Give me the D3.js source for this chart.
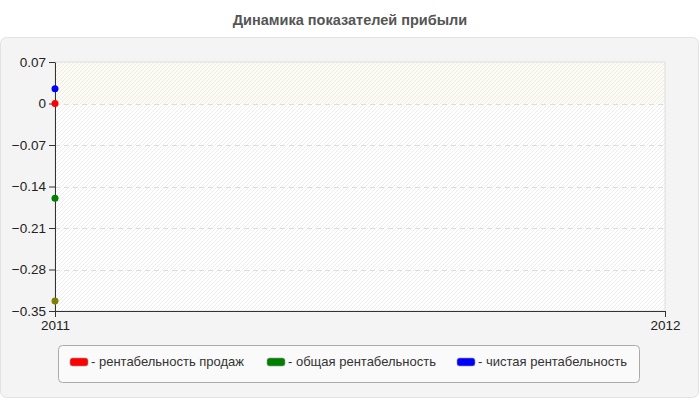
<!DOCTYPE html>
<html>
<head>
<meta charset="utf-8">
<script src="https://cdn.jsdelivr.net/npm/d3@7"></script>
<style>
  body { margin: 0; background: #fff; }
  svg { display: block; font-family: "Liberation Sans", Arial, sans-serif; }
</style>
</head>
<body>
<script>
// data
const years = [2011, 2012];
const yTicks = [0.07, 0, -0.07, -0.14, -0.21, -0.28, -0.35];
const seriesNames = ["рентабельность продаж", "общая рентабельность", "чистая рентабельность", ""];
const seriesColors = ["#ff0000", "#008000", "#0000ff", "#808000"];
const salesMargin = [0];
const totalMargin = [-0.16];
const netMargin = [0.025];
const extraSeries = [-0.333];

const w = 700, h = 400;
const padL = 55, padR = 665, padT = 62, padB = 311;

const svg = d3.select('body').append('svg').attr('width', w).attr('height', h);

// hatch pattern
const defs = svg.append('defs');
const pat = defs.append('pattern').attr('id', 'hatch').attr('patternUnits', 'userSpaceOnUse')
  .attr('width', 4).attr('height', 4);
pat.append('path').attr('d', 'M-1,1 l2,-2 M0,4 l4,-4 M3,5 l2,-2')
  .attr('stroke', '#e8e8e8').attr('stroke-width', 0.8);

svg.append('text').text('Динамика показателей прибыли')
  .attr('x', w / 2).attr('y', 25).attr('text-anchor', 'middle')
  .attr('font-weight', 'bold').attr('font-size', 14.5).attr('fill', '#555');

// panel
svg.append('rect').attr('x', 0.5).attr('y', 37.5).attr('width', 698).attr('height', 360)
  .attr('rx', 6).attr('fill', '#f4f4f4').attr('stroke', '#e2e2e2');

const x = d3.scaleLinear().domain([2011, 2012]).range([padL, padR]);
const y = d3.scaleLinear().domain([-0.35, 0.07]).range([padB, padT]);

// plot background
svg.append('rect').attr('x', padL).attr('y', padT).attr('width', padR - padL).attr('height', padB - padT)
  .attr('fill', '#ffffff');
svg.append('rect').attr('x', padL).attr('y', y(0.07)).attr('width', padR - padL).attr('height', y(0) - y(0.07))
  .attr('fill', '#fbfbf2');
svg.append('rect').attr('x', padL).attr('y', padT).attr('width', padR - padL).attr('height', padB - padT)
  .attr('fill', 'url(#hatch)').attr('stroke', '#dedede');

// grid
svg.append('g').selectAll('line').data(yTicks.filter(d => d !== 0.07 && d !== -0.35)).enter().append('line')
  .attr('x1', padL).attr('x2', padR)
  .attr('y1', d => Math.round(y(d)) + 0.5).attr('y2', d => Math.round(y(d)) + 0.5)
  .attr('stroke', '#dddddd').attr('stroke-dasharray', '5,4');

// axes
const yAxis = d3.axisLeft(y).tickValues(yTicks).tickFormat(d => d === 0 ? '0' : d3.format('.2f')(d)).tickSizeOuter(0).tickPadding(3);
const gy = svg.append('g').attr('transform', `translate(${padL},0)`).call(yAxis);
const xAxis = d3.axisBottom(x).tickValues(years).tickFormat(d3.format('d')).tickSizeOuter(0).tickPadding(3);
const gx = svg.append('g').attr('transform', `translate(0,${padB})`).call(xAxis);
[gy, gx].forEach(g => {
  g.selectAll('path,line').attr('stroke', '#333');
  g.selectAll('text').attr('fill', '#222').attr('font-size', 13.5).attr('font-family', '"Liberation Sans", Arial, sans-serif');
});

// points
const values = [salesMargin, totalMargin, netMargin, extraSeries];
values.forEach((vals, si) => {
  svg.append('g').selectAll('circle').data(vals).enter().append('circle')
    .attr('cx', (d, i) => x(years[i])).attr('cy', d => y(d)).attr('r', 3.5)
    .attr('fill', seriesColors[si]);
});

// legend
const lg = svg.append('g');
lg.append('rect').attr('x', 58.5).attr('y', 345.5).attr('width', 581).attr('height', 37)
  .attr('rx', 4).attr('fill', '#fafafa').attr('stroke', '#aaaaaa');
const legX = [70, 267, 457];
seriesNames.slice(0, 3).forEach((n, i) => {
  lg.append('rect').attr('x', legX[i]).attr('y', 358).attr('width', 18).attr('height', 8).attr('rx', 2.5)
    .attr('fill', seriesColors[i]).attr('stroke', '#999').attr('stroke-width', 0.6);
  lg.append('text').attr('x', legX[i] + 21).attr('y', 366).text('- ' + n)
    .attr('font-size', 13).attr('fill', '#333');
});
</script>
</body>
</html>
